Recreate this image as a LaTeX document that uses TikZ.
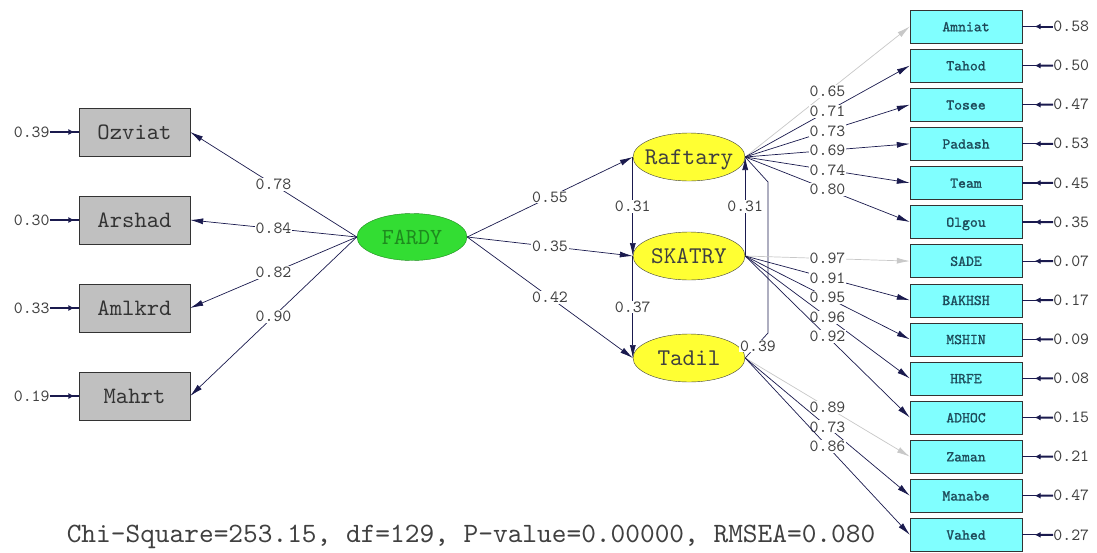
\documentclass[tikz,border=0pt]{standalone}
\usepackage{fontspec}
\newfontfamily\lmtt{lmmono10-regular}[Extension=.otf]
\newfontfamily\lmttb{lmmono10-regular}[Extension=.otf,FakeBold=1.2]
\usetikzlibrary{arrows.meta,shapes.geometric,calc}
\definecolor{navy}{HTML}{1A1A4E}
\definecolor{lgray}{HTML}{C8C8C8}
\definecolor{boxgray}{HTML}{C0C0C0}
\definecolor{cyanbox}{HTML}{80FFFF}
\definecolor{yel}{HTML}{FFFF33}
\definecolor{grn}{HTML}{33DD33}
\definecolor{dgrn}{HTML}{1E8A1E}
\definecolor{tealtxt}{HTML}{1E4B5A}
\definecolor{txtgray}{HTML}{404040}
\newcommand{\ctext}[1]{\makebox[0pt]{\raisebox{-0.32em}[0pt][0pt]{#1}}}
\begin{document}
\begin{tikzpicture}[x=1pt,y=-1pt,
  lat/.style={ellipse,draw=black!75,fill=yel,minimum width=112pt,minimum height=48pt,inner sep=0pt,
    font=\lmtt\fontsize{24}{24}\selectfont,text=black!75},
  lbox/.style={rectangle,draw=black!80,fill=boxgray,minimum width=111pt,minimum height=48pt,inner sep=0pt,
    font=\lmtt\fontsize{23.5}{23.5}\selectfont,text=black!80},
  rbox/.style={rectangle,draw=black!80,fill=cyanbox,minimum width=112pt,minimum height=33pt,inner sep=0pt,
    font=\lmttb\fontsize{15}{15}\selectfont,text=tealtxt},
  lab/.style={fill=white,inner sep=1pt,font=\lmtt\fontsize{17}{17}\selectfont,text=txtgray},
  errlab/.style={inner sep=0pt,font=\lmtt\fontsize{17}{17}\selectfont,text=txtgray},
  pth/.style={draw=navy,line width=0.7pt,-{Latex[length=13pt,width=6pt]}},
  gpth/.style={draw=lgray,line width=0.7pt,-{Latex[length=13pt,width=6pt]}},
  eline/.style={draw=navy,line width=1.2pt},
  ehead/.style={draw=navy,line width=2pt,-{Latex[length=6pt,width=6pt]}}
]
\useasboundingbox[fill=white] (0,0) rectangle (1097,552);

% left indicators
\node[lbox] (ozv) at (134.5,132) {\ctext{Ozviat}};
\node[lbox] (ars) at (134.5,220) {\ctext{Arshad}};
\node[lbox] (aml) at (134.5,308) {\ctext{Amlkrd}};
\node[lbox] (mah) at (134.5,396) {\ctext{Mahrt}};

% latents
\node[ellipse,draw=dgrn,fill=grn,minimum width=110pt,minimum height=47pt,inner sep=0pt,
  font=\lmtt\fontsize{23}{23}\selectfont,text=dgrn] (far) at (412,237) {\ctext{FARDY}};
\node[lat] (raf) at (689,157) {\ctext{Raftary}};
\node[lat] (ska) at (689,256) {\ctext{SKATRY}};
\node[lat] (tad) at (689,358) {\ctext{Tadil}};

% right indicators
\foreach \n/\t [count=\i from 0] in {amn/Amniat,tah/Tahod,tos/Tosee,pad/Padash,tea/Team,olg/Olgou,sad/SADE,bak/BAKHSH,msh/MSHIN,hrf/HRFE,adh/ADHOC,zam/Zaman,man/Manabe,vah/Vahed}{
  \node[rbox] (\n) at (966,26.5+39.1*\i) {\ctext{\t}};
}

% left error terms
\foreach \b/\v in {ozv/0.39,ars/0.30,aml/0.33,mah/0.19}{
  \node[errlab,anchor=east] (e\b) at ($(\b.west)+(-29,0)$) {\v};
  \draw[eline] (e\b.east) -- (\b.west);
  \draw[ehead] (e\b.east) -- ($(e\b.east)!0.85!(\b.west)$);
}
% right error terms
\foreach \b/\v in {amn/0.58,tah/0.50,tos/0.47,pad/0.53,tea/0.45,olg/0.35,sad/0.07,bak/0.17,msh/0.09,hrf/0.08,adh/0.15,zam/0.21,man/0.47,vah/0.27}{
  \node[errlab,anchor=west] (e\b) at ($(\b.east)+(31,0)$) {\v};
  \draw[eline] (e\b.west) -- (\b.east);
  \draw[ehead] (e\b.west) -- ($(e\b.west)!0.6!(\b.east)$);
}

% FARDY -> left indicators
\draw[pth] (far.west) -- node[lab,pos=0.5]{0.78} (ozv.east);
\draw[pth] (far.west) -- node[lab,pos=0.5]{0.84} (ars.east);
\draw[pth] (far.west) -- node[lab,pos=0.5]{0.82} (aml.east);
\draw[pth] (far.west) -- node[lab,pos=0.5]{0.90} (mah.east);

% FARDY -> latents
\draw[pth] (far.east) -- node[lab]{0.55} (raf.west);
\draw[pth] (far.east) -- node[lab]{0.35} (ska.west);
\draw[pth] (far.east) -- node[lab]{0.42} (tad.west);

% latent -> latent
\draw[pth] (raf.west) -- node[lab]{0.31} (ska.west);
\draw[pth] (ska.west) -- node[lab]{0.37} (tad.west);
\draw[pth] (ska.east) -- node[lab]{0.31} (raf.east);
\coordinate (c1) at (768,182);
\coordinate (c2) at (768,333);
\draw[draw=navy,line width=0.7pt] (raf.east) -- (c1) -- (c2) -- (tad.east);
\node[lab] (l39) at (758,346) {0.39};

% Raftary loadings
\draw[gpth] (raf.east) -- node[lab]{0.65} (amn.west);
\draw[pth] (raf.east) -- node[lab]{0.71} (tah.west);
\draw[pth] (raf.east) -- node[lab]{0.73} (tos.west);
\draw[pth] (raf.east) -- node[lab]{0.69} (pad.west);
\draw[pth] (raf.east) -- node[lab]{0.74} (tea.west);
\draw[pth] (raf.east) -- node[lab]{0.80} (olg.west);

% SKATRY loadings
\draw[gpth] (ska.east) -- node[lab]{0.97} (sad.west);
\draw[pth] (ska.east) -- node[lab]{0.91} (bak.west);
\draw[pth] (ska.east) -- node[lab]{0.95} (msh.west);
\draw[pth] (ska.east) -- node[lab]{0.96} (hrf.west);
\draw[pth] (ska.east) -- node[lab]{0.92} (adh.west);

% Tadil loadings
\draw[gpth] (tad.east) -- node[lab]{0.89} (zam.west);
\draw[pth] (tad.east) -- node[lab]{0.73} (man.west);
\draw[pth] (tad.east) -- node[lab]{0.86} (vah.west);

% fit statistics
\node[inner sep=0pt,font=\lmtt\fontsize{28}{28}\selectfont,text=txtgray] (fit) at (471,537)
  {Chi-Square=253.15, df=129, P-value=0.00000, RMSEA=0.080};
\end{tikzpicture}
\end{document}
